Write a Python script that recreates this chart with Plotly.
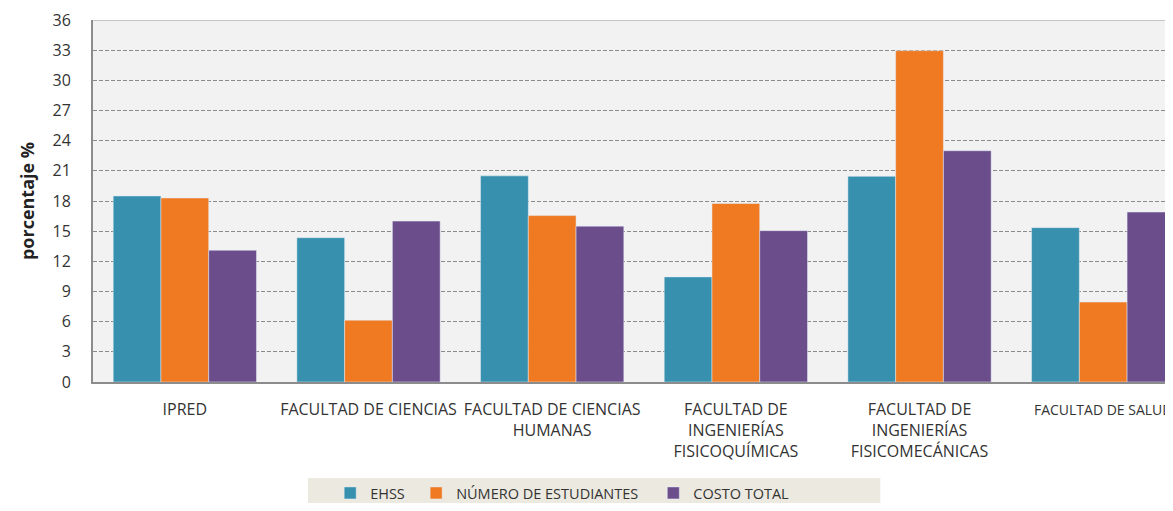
import plotly.graph_objects as go

categorias = ["IPRED", "FACULTAD DE CIENCIAS", "FACULTAD DE CIENCIAS<br>HUMANAS",
              "FACULTAD DE<br>INGENIERÍAS<br>FISICOQUÍMICAS",
              "FACULTAD DE<br>INGENIERÍAS<br>FISICOMECÁNICAS", "FACULTAD DE SALUD"]
ehss = [18.5, 14.35, 20.5, 10.45, 20.45, 15.35]
estudiantes = [18.3, 6.15, 16.55, 17.75, 32.95, 7.95]
costo = [13.1, 16.0, 15.5, 15.05, 23.0, 16.9]
y_ticks = [0, 3, 6, 9, 12, 15, 18, 21, 24, 27, 30, 33, 36]

colores = ['#3790AE', '#F07A22', '#6B4D8C']

# la ultima etiqueta queda al borde, va un poco mas pequeña para que no se corte
etiquetas = categorias[:-1] + ["<span style='font-size:14px'>" + categorias[-1] + "</span>"]

fig = go.Figure()
fig.add_trace(go.Bar(x=categorias, y=ehss, name="EHSS", marker_color=colores[0],
                     legend='legend2', showlegend=True))
fig.add_trace(go.Bar(x=categorias, y=estudiantes, name="NÚMERO DE ESTUDIANTES",
                     marker_color=colores[1], legend='legend3', showlegend=True))
fig.add_trace(go.Bar(x=categorias, y=costo, name="COSTO TOTAL", marker_color=colores[2],
                     legend='legend4', showlegend=True))

# una leyenda por serie para separar las entradas como en el original
def ley(x):
    return dict(orientation='h', x=x, xanchor='left', y=-0.3066, yanchor='middle',
                bgcolor='rgba(0,0,0,0)', font=dict(size=14.5, color='#333333'), itemwidth=30)

# la pagina tiene 8px de margen en el body -> figura mas chica para que no haya scroll
fig.update_layout(
    width=1165, height=495,
    margin=dict(l=85, r=0, t=12, b=121, autoexpand=False),
    barmode='group', bargap=0.22, bargroupgap=0,
    plot_bgcolor='#F2F2F2', paper_bgcolor='white',
    font=dict(family="Open Sans", color='#333333'),
    legend2=ley(0.2196),
    legend3=ley(0.2992),
    legend4=ley(0.5188),
    shapes=[
        dict(type='rect', xref='paper', yref='paper', x0=0.199, x1=0.729, y0=-0.265, y1=-0.3536,
             fillcolor='#ECE9E0', line=dict(width=0), layer='below'),
        dict(type='line', xref='paper', yref='y', x0=0, x1=1, y0=36, y1=36,
             line=dict(color='#9A9A9A', width=1)),
    ],
)
fig.update_xaxes(range=[-0.5, 5.38], showline=True, linecolor='#8C8C8C', linewidth=2,
                 tickvals=categorias, ticktext=etiquetas,
                 ticks='outside', ticklen=12, tickcolor='rgba(0,0,0,0)', automargin=False,
                 tickfont=dict(size=16, color='#333333'), tickangle=0)
fig.update_yaxes(range=[0, 36], tickvals=y_ticks, showline=True, linecolor='#8C8C8C', linewidth=2,
                 gridcolor='#8A8A8A', gridwidth=1, griddash='4px,2px', zeroline=False,
                 ticks='outside', ticklen=17, tickcolor='rgba(0,0,0,0)', ticklabeloverflow='allow',
                 automargin=False, tickfont=dict(size=16, color='#333333'),
                 title=dict(text="<b>porcentaje %</b>", font=dict(size=18, color='#222222'), standoff=13))

fig.write_html("out.html")
